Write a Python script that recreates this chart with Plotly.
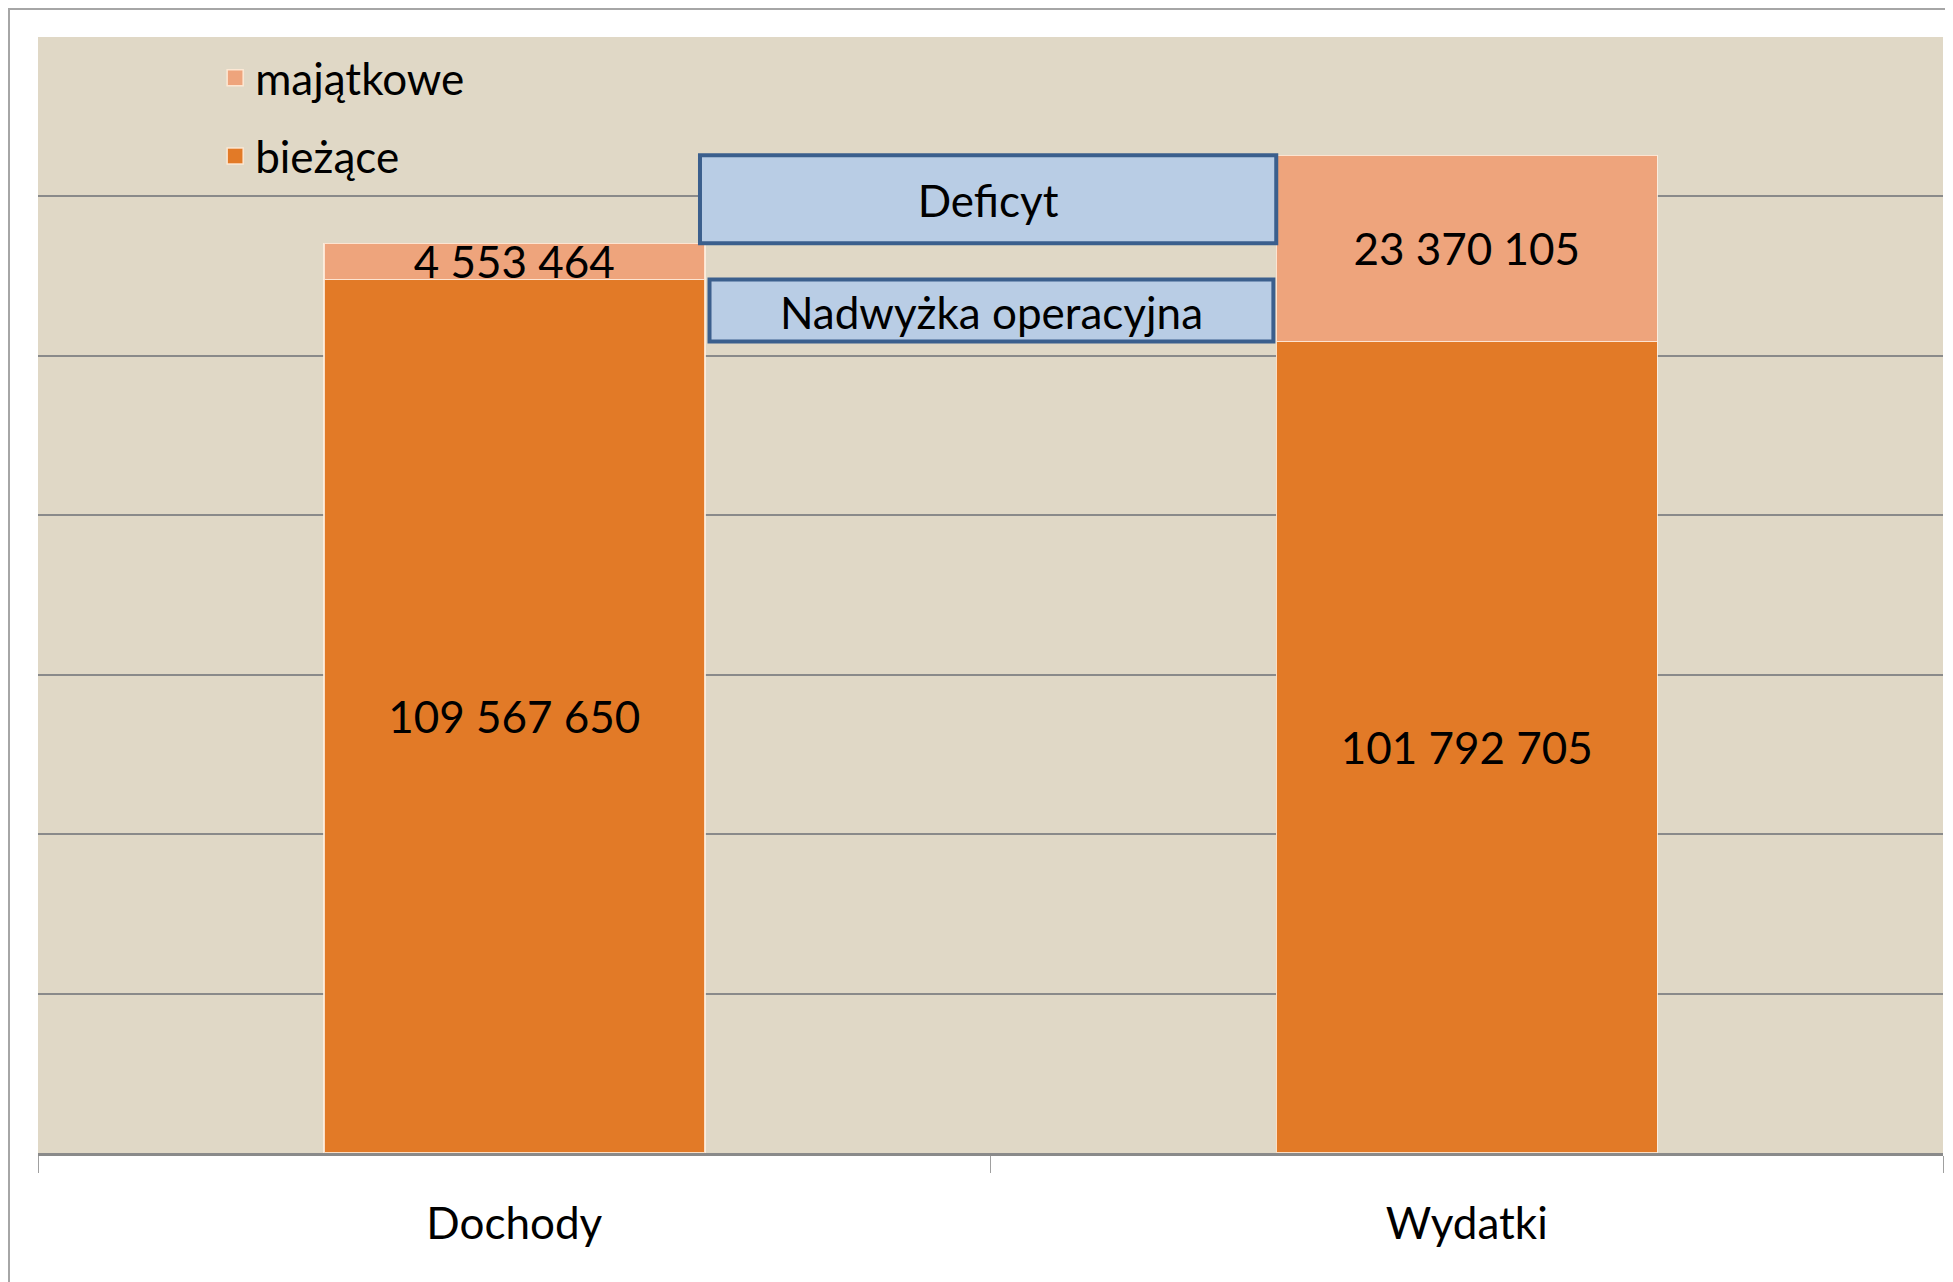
import plotly.graph_objects as go

# ---- data ----
categories = ["Dochody", "Wydatki"]
biezace = [109567650, 101792705]
majatkowe = [4553464, 23370105]
series_names = ["bieżące", "majątkowe"]
box_labels = ["Deficyt", "Nadwyżka operacyjna"]
y_max = 140000000
y_step = 20000000

FONT = "Lato"
TXT = 44
C_B = "#E27A27"
C_M = "#EEA47C"

totals = [b + m for b, m in zip(biezace, majatkowe)]

fig = go.Figure()
for vals, col in [(biezace, C_B), (majatkowe, C_M)]:
    fig.add_bar(
        x=categories, y=vals, showlegend=False,
        marker=dict(color=col, line=dict(color="rgba(255,240,225,0.85)", width=1.5)),
        texttemplate="%{y:,.0f}", textposition="inside", insidetextanchor="middle",
        constraintext="none", textangle=0,
        textfont=dict(size=TXT, color="black", family=FONT),
        hoverinfo="skip",
    )

# legend entries (larger square swatches), majątkowe listed first
for name, col in [(series_names[1], C_M), (series_names[0], C_B)]:
    fig.add_scatter(
        x=[None], y=[None], mode="markers", name=name, legendgroup=name,
        marker=dict(symbol="square", size=22, color=col,
                    line=dict(color="rgba(255,235,215,0.9)", width=1.5)),
        hoverinfo="skip",
    )

W, H = 1945, 1274
ML, MR, MT, MB = 30, 10, 29, 129
pw, ph = W - ML - MR, H - MT - MB

box_style = dict(type="rect", xref="x", yref="y", layer="above",
                 fillcolor="#B9CDE5", line=dict(color="#3B5F8D", width=4))
shapes = [
    dict(box_style, x0=0.195, x1=0.80, y0=totals[0], y1=totals[1],
         label=dict(text=box_labels[0], textposition="middle center",
                    font=dict(size=TXT, color="black", family=FONT))),
    dict(box_style, x0=0.205, x1=0.797, y0=biezace[1], y1=biezace[0],
         label=dict(text=box_labels[1], textposition="middle center",
                    font=dict(size=TXT, color="black", family=FONT))),
    # outer chart border
    dict(type="rect", xref="paper", yref="paper",
         x0=(1 - ML) / pw, x1=(W + 20 - ML) / pw,
         y0=-(MB + 20) / ph, y1=1 + (MT - 1) / ph,
         line=dict(color="#A6A6A6", width=2), fillcolor="rgba(0,0,0,0)", layer="below"),
]

fig.update_layout(
    width=W, height=H,
    margin=dict(l=ML, r=MR, t=MT, b=MB),
    barmode="stack", bargap=0.6,
    separators=", ",
    paper_bgcolor="white", plot_bgcolor="#E0D8C6",
    font=dict(family=FONT, size=TXT, color="black"),
    shapes=shapes,
    showlegend=True,
    legend=dict(x=0.093, y=0.995, xanchor="left", yanchor="top",
                traceorder="grouped", tracegroupgap=18, itemsizing="trace",
                bgcolor="rgba(0,0,0,0)", font=dict(size=TXT, family=FONT, color="black")),
    xaxis=dict(showline=True, linecolor="#8A8A8A", linewidth=3,
               ticks="outside", tickson="boundaries", ticklen=17, tickcolor="#A0A0A0",
               tickwidth=1.2, ticklabelstandoff=30,
               tickfont=dict(size=TXT, family=FONT, color="black")),
    yaxis=dict(range=[0, y_max], dtick=y_step, showticklabels=False,
               showgrid=True, gridcolor="#8A8A8A", gridwidth=1.8,
               zeroline=False, showline=False, ticks=""),
)

fig.write_html("out.html")
